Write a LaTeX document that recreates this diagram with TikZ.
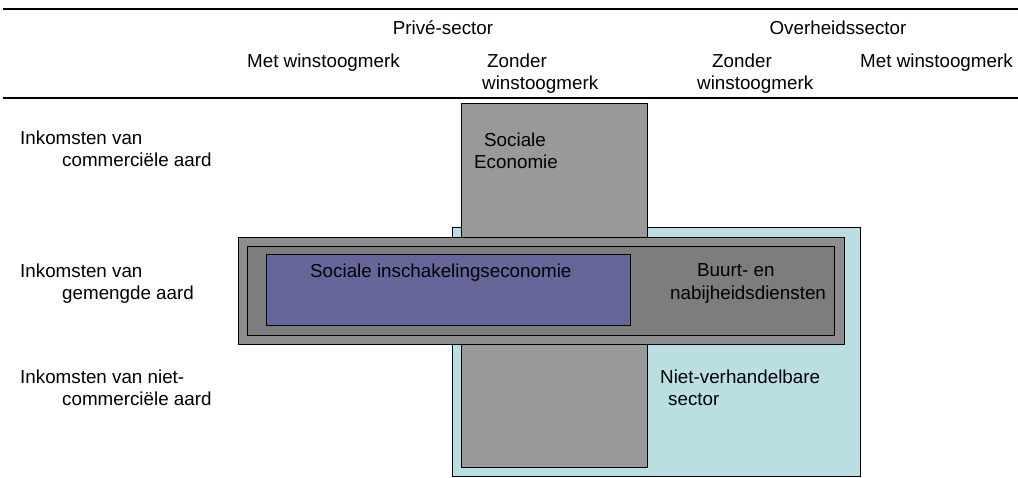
\documentclass[tikz,border=0pt]{standalone}
\usepackage{fontspec}
\setmainfont{Liberation Sans}
\definecolor{nvblue}{HTML}{B9DFE3}
\definecolor{crossgray}{HTML}{999999}
\definecolor{bandgray}{HTML}{8E8E8E}
\definecolor{innergray}{HTML}{7D7D7D}
\definecolor{sipurple}{HTML}{66669A}
\begin{document}
\begin{tikzpicture}[x=1pt,y=-1pt,
  lbl/.style={inner sep=0pt, anchor=north west, align=left, font=\fontsize{18.8}{22.5}\selectfont},
  hdr/.style={inner sep=0pt, anchor=north, align=center, font=\fontsize{18.8}{22.5}\selectfont},
  area/.style={draw=black, line width=0.8pt, inner sep=0pt, anchor=north west, minimum width=#1},
  rule/.style={line width=2pt}]
\useasboundingbox (0,0) rectangle (1018,477);
% rules
\coordinate (r1a) at (3,8.5); \coordinate (r1b) at (1018,8.5);
\coordinate (r2a) at (3,98); \coordinate (r2b) at (1018,98);
\draw[rule] (r1a) -- (r1b);
\draw[rule] (r2a) -- (r2b);
% shapes
\node[area=408pt, minimum height=249pt, fill=nvblue] (nvs) at (452,227) {};
\node[area=186pt, minimum height=364pt, fill=crossgray] (se) at (461,103) {};
\node[area=606pt, minimum height=107pt, fill=bandgray] (band) at (238,237) {};
\node[area=587pt, minimum height=89pt, fill=innergray] (bnd) at (247,246) {};
\node[area=364pt, minimum height=71pt, fill=sipurple] (sie) at (266,254) {};
% headers
\node[hdr] (priv) at (443,20.5) {Privé-sector};
\node[hdr] (over) at (838,20.5) {Overheidssector};
\node[lbl] (pmet) at (247,53.5) {Met winstoogmerk};
\node[lbl] (pzon) at (482,53.5) {\hspace{5pt}Zonder\\winstoogmerk};
\node[lbl] (ozon) at (697,53.5) {\hspace{15pt}Zonder\\winstoogmerk};
\node[lbl] (omet) at (860,53.5) {Met winstoogmerk};
% row labels
\node[lbl] (rc) at (20,130.5) {Inkomsten van\\\hspace{42pt}commerciële aard};
\node[lbl] (rg) at (20,263.5) {Inkomsten van\\\hspace{42pt}gemengde aard};
\node[lbl] (rn) at (20,369.5) {Inkomsten van niet-\\\hspace{42pt}commerciële aard};
% area labels
\node[lbl] (tse) at (474,132.5) {\hspace{10pt}Sociale\\Economie};
\node[lbl] (tsie) at (310,263.5) {Sociale inschakelingseconomie};
\node[lbl] (tbnd) at (670,263.5) {\hspace{27pt}Buurt- en\\nabijheidsdiensten};
\node[lbl] (tnvs) at (660,369.5) {Niet-verhandelbare\\\hspace{8pt}sector};
\end{tikzpicture}
\end{document}
